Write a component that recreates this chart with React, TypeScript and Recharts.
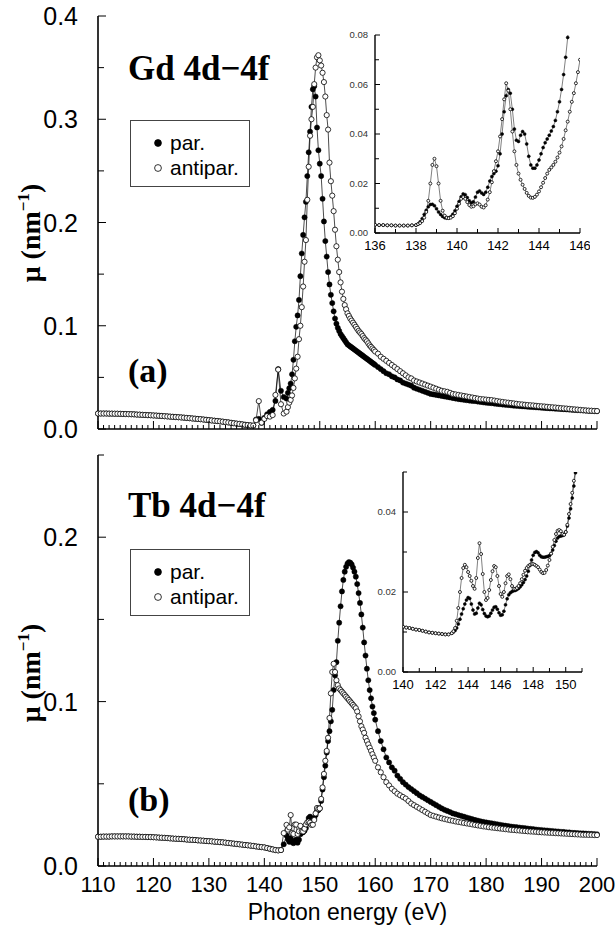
import React from 'react';
import { LineChart, Line, XAxis, YAxis, Legend } from 'recharts';

const SANS = '"Liberation Sans", Arial, Helvetica, sans-serif';
const SERIF = '"Liberation Serif", "Times New Roman", Times, serif';

// photon energy grid of the two big panels (eV)
const E_MAIN = [
  110, 110.5, 111, 111.5, 112, 112.5, 113, 113.5, 114, 114.5, 115, 115.5, 116, 116.5, 117, 117.5, 118, 118.5, 119, 119.5,
  120, 120.5, 121, 121.5, 122, 122.5, 123, 123.5, 124, 124.5, 125, 125.5, 126, 126.5, 127, 127.5, 128, 128.5, 129, 129.5,
  130, 130.5, 131, 131.5, 132, 132.5, 133, 133.5, 134, 134.5, 135, 135.5, 136, 136.5, 137, 137.5, 138,
  138.5, 139, 139.5, 140, 140.5, 141, 141.5, 142, 142.5, 143, 143.5,
  144, 144.25, 144.5, 144.75, 145, 145.25, 145.5, 145.75,
  146, 146.25, 146.5, 146.75, 147, 147.25, 147.5, 147.75,
  148, 148.25, 148.5, 148.75, 149, 149.25, 149.5, 149.75,
  150, 150.25, 150.5, 150.75, 151, 151.25, 151.5, 151.75,
  152, 152.25, 152.5, 152.75, 153, 153.25, 153.5, 153.75,
  154, 154.25, 154.5, 154.75, 155, 155.25, 155.5, 155.75,
  156, 156.25, 156.5, 156.75, 157, 157.25, 157.5, 157.75,
  158, 158.25, 158.5, 158.75, 159, 159.25, 159.5, 159.75,
  160,
  160.5, 161, 161.5, 162, 162.5, 163, 163.5, 164, 164.5, 165,
  165.5, 166, 166.5, 167, 167.5, 168, 168.5, 169, 169.5, 170,
  170.5, 171, 171.5, 172, 172.5, 173, 173.5, 174, 174.5, 175,
  175.5, 176, 176.5, 177, 177.5, 178, 178.5, 179, 179.5, 180,
  180.5, 181, 181.5, 182, 182.5, 183, 183.5, 184, 184.5, 185,
  185.5, 186, 186.5, 187, 187.5, 188, 188.5, 189, 189.5, 190,
  190.5, 191, 191.5, 192, 192.5, 193, 193.5, 194, 194.5, 195,
  195.5, 196, 196.5, 197, 197.5, 198, 198.5, 199, 199.5, 200,
];

// Gd, panel (a): 110-138 eV is common to both spin orientations
const GD_PRE = [
  0.015, 0.015, 0.015, 0.015, 0.0149, 0.0149, 0.0148, 0.0148, 0.0147, 0.0146,
  0.0145, 0.0144, 0.0143, 0.0142, 0.014, 0.0139, 0.0137, 0.0136, 0.0134, 0.0133,
  0.0131, 0.013, 0.0128, 0.0126, 0.0124, 0.0122, 0.012, 0.0118, 0.0116, 0.0114,
  0.0112, 0.011, 0.0107, 0.0105, 0.0102, 0.01, 0.0097, 0.0095, 0.0092, 0.0089,
  0.0086, 0.0083, 0.008, 0.0077, 0.0074, 0.0071, 0.0067, 0.0064, 0.006, 0.0056,
  0.0052, 0.0049, 0.0045, 0.0041, 0.0038, 0.0035, 0.0033,
];
const GD_PAR = [
  ...GD_PRE,
  0.0092, 0.0098, 0.006, 0.0108, 0.0143, 0.0165, 0.0185, 0.0272, 0.058, 0.037, 0.031,
  0.0295, 0.035, 0.0395, 0.044, 0.053, 0.067, 0.085, 0.099,
  0.11, 0.125, 0.148, 0.17, 0.188, 0.205, 0.22, 0.245,
  0.268, 0.288, 0.312, 0.329, 0.332, 0.322, 0.292, 0.27,
  0.257, 0.245, 0.223, 0.201, 0.182, 0.167, 0.152, 0.14,
  0.13, 0.122, 0.114, 0.107, 0.102, 0.098, 0.095, 0.092,
  0.09, 0.088, 0.086, 0.084, 0.082, 0.081, 0.08, 0.079,
  0.078, 0.077, 0.076, 0.075, 0.074, 0.073, 0.072, 0.071,
  0.07, 0.069, 0.068, 0.067, 0.066, 0.065, 0.064, 0.063,
  0.062,
  0.06, 0.058, 0.056, 0.054, 0.053, 0.051, 0.05, 0.048, 0.047, 0.045,
  0.044, 0.043, 0.042, 0.04, 0.039, 0.038, 0.037, 0.036, 0.035, 0.034,
  0.0335, 0.033, 0.0325, 0.032, 0.0315, 0.031, 0.0305, 0.03, 0.0295, 0.029,
  0.0286, 0.0283, 0.0279, 0.0275, 0.0272, 0.027, 0.0266, 0.0262, 0.0258, 0.0255,
  0.0252, 0.025, 0.0246, 0.0243, 0.024, 0.0237, 0.0234, 0.0232, 0.0229, 0.0226,
  0.0224, 0.0222, 0.022, 0.0218, 0.0216, 0.0214, 0.0212, 0.021, 0.0208, 0.0206,
  0.0204, 0.0202, 0.02, 0.0199, 0.0197, 0.0195, 0.0193, 0.0192, 0.019, 0.0188,
  0.0186, 0.0185, 0.0183, 0.0181, 0.0179, 0.0178, 0.0176, 0.0175, 0.0173, 0.0172,
];
const GD_ANTI = [
  ...GD_PRE,
  0.0085, 0.027, 0.0062, 0.0098, 0.0125, 0.012, 0.0135, 0.033, 0.0575, 0.024, 0.015,
  0.0168, 0.0212, 0.0255, 0.0282, 0.0325, 0.0398, 0.049, 0.0585,
  0.07, 0.087, 0.1, 0.118, 0.138, 0.162, 0.183, 0.222,
  0.254, 0.284, 0.3, 0.312, 0.334, 0.35, 0.36, 0.362,
  0.357, 0.352, 0.345, 0.336, 0.322, 0.304, 0.29, 0.258,
  0.24, 0.226, 0.211, 0.193, 0.177, 0.164, 0.152, 0.142,
  0.133, 0.126, 0.12, 0.116, 0.112, 0.1095, 0.107, 0.105,
  0.103, 0.101, 0.099, 0.097, 0.095, 0.0935, 0.092, 0.09,
  0.088, 0.0865, 0.085, 0.083, 0.081, 0.0795, 0.078, 0.0765,
  0.075,
  0.073, 0.07, 0.068, 0.066, 0.064, 0.062, 0.06, 0.058, 0.056, 0.054,
  0.052, 0.05, 0.049, 0.047, 0.046, 0.045, 0.044, 0.043, 0.042, 0.041,
  0.04, 0.039, 0.038, 0.037, 0.0365, 0.036, 0.035, 0.034, 0.0335, 0.033,
  0.0325, 0.032, 0.0315, 0.031, 0.0305, 0.03, 0.0295, 0.029, 0.0288, 0.0285,
  0.0282, 0.028, 0.0275, 0.027, 0.0266, 0.0262, 0.0258, 0.0255, 0.0251, 0.0248,
  0.0244, 0.024, 0.0238, 0.0235, 0.0232, 0.023, 0.0228, 0.0225, 0.0222, 0.022,
  0.0218, 0.0215, 0.0212, 0.021, 0.0208, 0.0205, 0.0202, 0.02, 0.0198, 0.0195,
  0.0192, 0.019, 0.0188, 0.0185, 0.0182, 0.018, 0.0178, 0.0177, 0.0175, 0.0174,
];

// Tb, panel (b)
const TB_PRE = [
  0.0178, 0.0178, 0.0179, 0.0179, 0.0179, 0.018, 0.018, 0.018, 0.018, 0.018,
  0.018, 0.018, 0.0179, 0.0179, 0.0178, 0.0178, 0.0177, 0.0177, 0.0176, 0.0176,
  0.0175, 0.0174, 0.0173, 0.0172, 0.0171, 0.017, 0.0168, 0.0167, 0.0166, 0.0165,
  0.0164, 0.0163, 0.0161, 0.016, 0.0159, 0.0158, 0.0156, 0.0155, 0.0154, 0.0152,
  0.0151, 0.015, 0.0148, 0.0147, 0.0145, 0.0144, 0.0142, 0.014, 0.0138, 0.0136,
  0.0134, 0.0132, 0.013, 0.0128, 0.0126, 0.0124, 0.0122,
];
const TB_PAR = [
  ...TB_PRE,
  0.0119, 0.0117, 0.0115, 0.0113, 0.0109, 0.0105, 0.0101, 0.0097, 0.0095, 0.0097, 0.0132,
  0.0186, 0.0162, 0.0147, 0.017, 0.0146, 0.0139, 0.0155, 0.016,
  0.0142, 0.016, 0.0193, 0.0202, 0.0206, 0.0215, 0.0231, 0.0259,
  0.0292, 0.03, 0.0288, 0.0287, 0.0291, 0.031, 0.0335, 0.034,
  0.035, 0.0396, 0.0465, 0.054, 0.061, 0.069, 0.076, 0.082,
  0.088, 0.095, 0.107, 0.116, 0.124, 0.137, 0.148, 0.158,
  0.167, 0.174, 0.179, 0.182, 0.184, 0.1848, 0.1845, 0.1835,
  0.1815, 0.179, 0.176, 0.1715, 0.166, 0.16, 0.153, 0.145,
  0.136, 0.128, 0.12, 0.113, 0.107, 0.102, 0.097, 0.093,
  0.089,
  0.082, 0.076, 0.071, 0.066, 0.063, 0.06, 0.058, 0.055, 0.053, 0.051,
  0.0495, 0.048, 0.0468, 0.0455, 0.0443, 0.043, 0.042, 0.041, 0.04, 0.039,
  0.038, 0.037, 0.036, 0.035, 0.0342, 0.0335, 0.0328, 0.032, 0.0315, 0.031,
  0.0305, 0.03, 0.0295, 0.029, 0.0285, 0.028, 0.0276, 0.0272, 0.0268, 0.0265,
  0.0262, 0.026, 0.0257, 0.0254, 0.0251, 0.0248, 0.0245, 0.0243, 0.024, 0.0238,
  0.0236, 0.0234, 0.0232, 0.023, 0.0228, 0.0226, 0.0224, 0.0222, 0.022, 0.0219,
  0.0217, 0.0216, 0.0214, 0.0213, 0.0211, 0.021, 0.0208, 0.0207, 0.0205, 0.0204,
  0.0202, 0.0201, 0.02, 0.0199, 0.0198, 0.0197, 0.0196, 0.0195, 0.0194, 0.0193,
];
const TB_ANTI = [
  ...TB_PRE,
  0.0119, 0.0117, 0.0115, 0.0113, 0.0109, 0.0105, 0.0101, 0.0097, 0.0095, 0.0097, 0.02,
  0.025, 0.0221, 0.0235, 0.031, 0.02, 0.0195, 0.0252, 0.0252,
  0.0195, 0.0211, 0.0244, 0.0211, 0.021, 0.0227, 0.0253, 0.0266,
  0.027, 0.0264, 0.025, 0.0251, 0.028, 0.032, 0.0353, 0.0348,
  0.035, 0.0408, 0.0478, 0.056, 0.064, 0.07, 0.078, 0.09,
  0.105, 0.118, 0.123, 0.118, 0.113, 0.11, 0.108, 0.107,
  0.106, 0.105, 0.104, 0.103, 0.102, 0.101, 0.1, 0.099,
  0.098, 0.097, 0.096, 0.094, 0.091, 0.088, 0.085, 0.083,
  0.081, 0.078, 0.076, 0.074, 0.072, 0.07, 0.068, 0.066,
  0.064,
  0.06, 0.057, 0.054, 0.051, 0.049, 0.047, 0.0455, 0.044, 0.043, 0.042,
  0.041, 0.0395, 0.038, 0.037, 0.036, 0.035, 0.034, 0.033, 0.032, 0.031,
  0.0305, 0.03, 0.0295, 0.029, 0.0286, 0.0282, 0.0278, 0.0275, 0.0271, 0.0268,
  0.0265, 0.0262, 0.0259, 0.0256, 0.0253, 0.025, 0.0247, 0.0244, 0.0241, 0.0239,
  0.0236, 0.0234, 0.0232, 0.023, 0.0228, 0.0226, 0.0224, 0.0222, 0.022, 0.0219,
  0.0217, 0.0216, 0.0214, 0.0213, 0.0211, 0.021, 0.0209, 0.0208, 0.0206, 0.0205,
  0.0204, 0.0203, 0.0202, 0.0201, 0.02, 0.0199, 0.0198, 0.0197, 0.0196, 0.0195,
  0.0194, 0.0193, 0.0192, 0.0191, 0.019, 0.019, 0.0189, 0.0189, 0.0188, 0.0188,
];

// inset of panel (a), 136-146 eV
const E_GD_INSET = [
  136, 136.2, 136.4, 136.6, 136.8, 137, 137.2, 137.4, 137.6, 137.8, 138,
  138.1, 138.2, 138.3, 138.4, 138.5, 138.6, 138.7, 138.8, 138.9, 139,
  139.1, 139.2, 139.3, 139.4, 139.5, 139.6, 139.7, 139.8, 139.9, 140,
  140.1, 140.2, 140.3, 140.4, 140.5, 140.6, 140.7, 140.8, 140.9, 141,
  141.1, 141.2, 141.3, 141.4, 141.5, 141.6, 141.7, 141.8, 141.9, 142,
  142.1, 142.2, 142.3, 142.4, 142.5, 142.6, 142.7, 142.8, 142.9, 143,
  143.1, 143.2, 143.3, 143.4, 143.5, 143.6, 143.7, 143.8, 143.9, 144,
  144.1, 144.2, 144.3, 144.4, 144.5, 144.6, 144.7, 144.8, 144.9, 145,
  145.1, 145.2, 145.3, 145.4, 145.5, 145.6, 145.7, 145.8, 145.9, 146,
];
const GD_INSET_BASE = [0.0033, 0.0032, 0.0032, 0.0031, 0.0031, 0.003, 0.003, 0.003, 0.003, 0.0031, 0.0032];
const GD_INSET_PAR = [
  ...GD_INSET_BASE,
  0.0036, 0.0045, 0.0058, 0.0075, 0.0092, 0.0106, 0.0115, 0.0116, 0.011, 0.0098,
  0.0085, 0.0075, 0.0067, 0.0062, 0.006, 0.0061, 0.0066, 0.0076, 0.009, 0.0108,
  0.0127, 0.0146, 0.0158, 0.0155, 0.0143, 0.013, 0.0122, 0.0126, 0.0145, 0.0165,
  0.017, 0.0162, 0.0156, 0.0165, 0.0185, 0.021, 0.0228, 0.024, 0.025, 0.0272,
  0.032, 0.04, 0.049, 0.0555, 0.058, 0.0565, 0.05, 0.042, 0.0375, 0.037,
  0.0395, 0.041, 0.04, 0.036, 0.031, 0.0275, 0.0262, 0.0262, 0.0275, 0.0295,
  0.032, 0.0345, 0.0365, 0.038, 0.0395, 0.0412, 0.043, 0.0455, 0.049, 0.053,
  0.058, 0.064, 0.071, 0.079, 0.087,
];
const GD_INSET_ANTI = [
  ...GD_INSET_BASE,
  0.0036, 0.004, 0.0048, 0.0062, 0.0085, 0.013, 0.02, 0.0275, 0.03, 0.027,
  0.02, 0.013, 0.009, 0.007, 0.0062, 0.006, 0.0062, 0.0068, 0.008, 0.0098,
  0.0118, 0.0138, 0.0145, 0.0138, 0.0125, 0.0113, 0.0106, 0.0108, 0.0116, 0.012,
  0.0115, 0.0106, 0.0103, 0.0112, 0.0135, 0.0165, 0.0205, 0.025, 0.029, 0.033,
  0.039, 0.046, 0.054, 0.0605, 0.0575, 0.05, 0.041, 0.033, 0.0275, 0.024,
  0.0215, 0.0195, 0.0178, 0.0162, 0.015, 0.0143, 0.0142, 0.0146, 0.0155, 0.0168,
  0.0185, 0.0203, 0.0222, 0.024, 0.0255, 0.0265, 0.0275, 0.0288, 0.0305, 0.0325,
  0.035, 0.038, 0.0415, 0.045, 0.049, 0.053, 0.0565, 0.0605, 0.065, 0.07,
];

// inset of panel (b), 140-151 eV
const E_TB_INSET = [
  140, 140.2, 140.4, 140.6, 140.8, 141, 141.2, 141.4, 141.6, 141.8, 142, 142.2, 142.4, 142.6, 142.8, 143,
  143.1, 143.2, 143.3, 143.4, 143.5, 143.6, 143.7, 143.8, 143.9, 144,
  144.1, 144.2, 144.3, 144.4, 144.5, 144.6, 144.7, 144.8, 144.9, 145,
  145.1, 145.2, 145.3, 145.4, 145.5, 145.6, 145.7, 145.8, 145.9, 146,
  146.1, 146.2, 146.3, 146.4, 146.5, 146.6, 146.7, 146.8, 146.9, 147,
  147.1, 147.2, 147.3, 147.4, 147.5, 147.6, 147.7, 147.8, 147.9, 148,
  148.1, 148.2, 148.3, 148.4, 148.5, 148.6, 148.7, 148.8, 148.9, 149,
  149.1, 149.2, 149.3, 149.4, 149.5, 149.6, 149.7, 149.8, 149.9, 150,
  150.1, 150.2, 150.3, 150.4, 150.5, 150.6, 150.7, 150.8, 150.9, 151,
];
const TB_INSET_BASE = [
  0.0113, 0.0111, 0.011, 0.0108, 0.0106, 0.0105, 0.0103, 0.0101, 0.0099, 0.0098,
  0.0097, 0.0096, 0.0095, 0.0094, 0.0094, 0.0097,
];
const TB_INSET_PAR = [
  ...TB_INSET_BASE,
  0.01, 0.0104, 0.011, 0.012, 0.0132, 0.0145, 0.0158, 0.017, 0.018, 0.0186,
  0.0184, 0.017, 0.0155, 0.0145, 0.0147, 0.016, 0.0172, 0.0168, 0.0156, 0.0146,
  0.014, 0.0138, 0.014, 0.0147, 0.0155, 0.0162, 0.0163, 0.0157, 0.0148, 0.0142,
  0.0143, 0.0152, 0.0168, 0.0183, 0.0193, 0.0198, 0.0201, 0.0203, 0.0204, 0.0206,
  0.0209, 0.0213, 0.0218, 0.0224, 0.0231, 0.024, 0.0252, 0.0266, 0.028, 0.0292,
  0.0299, 0.0301, 0.0298, 0.0292, 0.0288, 0.0287, 0.0287, 0.0288, 0.0289, 0.0291,
  0.0296, 0.0305, 0.0316, 0.0327, 0.0335, 0.0339, 0.034, 0.0341, 0.0343, 0.035,
  0.0365, 0.0385, 0.0408, 0.0435, 0.0465, 0.0498, 0.053,
];
const TB_INSET_ANTI = [
  ...TB_INSET_BASE,
  0.0102, 0.011, 0.0128, 0.016, 0.02, 0.0235, 0.026, 0.0268, 0.0262, 0.025,
  0.024, 0.0228, 0.0215, 0.0208, 0.0235, 0.0285, 0.0322, 0.0295, 0.0245, 0.02,
  0.018, 0.0185, 0.0205, 0.023, 0.0252, 0.0265, 0.0262, 0.024, 0.0215, 0.0195,
  0.0188, 0.02, 0.0222, 0.024, 0.0244, 0.0232, 0.0215, 0.0208, 0.0208, 0.021,
  0.0215, 0.0222, 0.0232, 0.0243, 0.0253, 0.026, 0.0265, 0.0268, 0.027, 0.027,
  0.0268, 0.0265, 0.0262, 0.0256, 0.025, 0.0247, 0.0248, 0.0255, 0.0266, 0.028,
  0.0296, 0.0313, 0.033, 0.0345, 0.0353, 0.0355, 0.0352, 0.0345, 0.0343, 0.035,
  0.0368, 0.0395, 0.042, 0.0448, 0.0478, 0.0505, 0.0535,
];

const SERIES_NAMES = ['par.', 'antipar.'];

// tick labels
const MAIN_X_TICKS = [110, 120, 130, 140, 150, 160, 170, 180, 190, 200];
const GD_Y_TICKS = [0, 0.1, 0.2, 0.3, 0.4];
const TB_Y_TICKS = [0, 0.1, 0.2];
const GD_INSET_X_TICKS = [136, 138, 140, 142, 144, 146];
const GD_INSET_Y_TICKS = [0, 0.02, 0.04, 0.06, 0.08];
const TB_INSET_X_TICKS = [140, 142, 144, 146, 148, 150];
const TB_INSET_Y_TICKS = [0, 0.02, 0.04];

const steps = (lo: number, hi: number, step: number) => {
  const out: number[] = [];
  for (let i = 0; lo + i * step <= hi + 1e-9; i++) out.push(+(lo + i * step).toFixed(4));
  return out;
};

type Row = { E: number; par: number | null; anti: number | null };
const rowsOf = (E: number[], par: number[], anti: number[]): Row[] =>
  E.map((e, i) => ({
    E: e,
    par: i < par.length ? par[i] : null,
    anti: i < anti.length ? anti[i] : null,
  }));

const isIn = (list: number[], v: number) => list.some((t) => Math.abs(t - v) < 1e-6);

type Side = 'bottom' | 'top' | 'left' | 'right';
type LabelOpt = { size: number; gap: number; color: string; fmt: (v: number) => string };

// inward tick marks, label only on major ticks
const makeTick = (side: Side, majors: number[], lens: [number, number], label?: LabelOpt) => (p: any) => {
  const { x, y } = p;
  const v = Number(p.payload.value);
  const major = isIn(majors, v);
  const len = major ? lens[0] : lens[1];
  const dx = side === 'left' ? len : side === 'right' ? -len : 0;
  const dy = side === 'bottom' ? -len : side === 'top' ? len : 0;
  let text = null;
  if (label && major) {
    text =
      side === 'bottom' ? (
        <text x={x} y={y + label.gap} textAnchor="middle" fontSize={label.size} fill={label.color} fontFamily={SANS}>
          {label.fmt(v)}
        </text>
      ) : (
        <text x={x - label.gap} y={y + label.size * 0.36} textAnchor="end" fontSize={label.size} fill={label.color} fontFamily={SANS}>
          {label.fmt(v)}
        </text>
      );
  }
  return (
    <g>
      <line x1={x} y1={y} x2={x + dx} y2={y + dy} stroke="#000" strokeWidth={1} />
      {text}
    </g>
  );
};

const LegendBox = () => (
  <div
    style={{
      width: 120,
      height: 67,
      border: '1px solid #444',
      background: '#fff',
      boxSizing: 'border-box',
      paddingTop: 9,
      fontFamily: SANS,
      fontSize: 21,
      color: '#000',
    }}
  >
    {SERIES_NAMES.map((name, i) => (
      <div key={name} style={{ display: 'flex', alignItems: 'center', height: 25 }}>
        <svg width={12} height={12} style={{ marginLeft: 21, marginRight: 6 }}>
          <circle cx={6} cy={6} r={3.4} fill={i === 0 ? '#000' : '#fff'} stroke="#000" strokeWidth={0.8} />
        </svg>
        <span>{name}</span>
      </div>
    ))}
  </div>
);

type PanelCfg = {
  rows: Row[];
  left: number;
  top: number;
  width: number;
  height: number;
  margin: { top: number; right: number; bottom: number; left: number };
  xDomain: [number, number];
  yDomain: [number, number];
  xTicks: number[];
  xMinor: number[];
  yTicks: number[];
  yMinor: number[];
  xLabel?: LabelOpt;
  yLabel: LabelOpt;
  yAxisWidth: number;
  xAxisHeight: number;
  xLen: [number, number];
  yLen: [number, number];
  dotR: number;
  lineW: number;
  frame: number;
  clipDots: boolean;
  legendTop?: number;
};

const merge = (a: number[], b: number[]) => Array.from(new Set([...a, ...b])).sort((m, n) => m - n);

function Panel(c: PanelCfg) {
  const xAll = merge(c.xTicks, c.xMinor);
  const yAll = merge(c.yTicks, c.yMinor);
  const axisLine = { stroke: '#000', strokeWidth: c.frame };
  const common = { type: 'number' as const, allowDataOverflow: true, interval: 0 as const, tickLine: false, tickSize: 0, tickMargin: 0, axisLine };
  return (
    <div style={{ position: 'absolute', left: c.left, top: c.top }}>
      <LineChart width={c.width} height={c.height} data={c.rows} margin={c.margin}>
        <XAxis xAxisId="b" dataKey="E" domain={c.xDomain} ticks={xAll} height={c.xAxisHeight}
          tick={makeTick('bottom', c.xTicks, c.xLen, c.xLabel)} {...common} />
        <XAxis xAxisId="t" orientation="top" domain={c.xDomain} ticks={xAll} height={0}
          tick={makeTick('top', c.xTicks, c.xLen)} {...common} />
        <YAxis yAxisId="l" domain={c.yDomain} ticks={yAll} width={c.yAxisWidth}
          tick={makeTick('left', c.yTicks, c.yLen, c.yLabel)} {...common} />
        <YAxis yAxisId="r" orientation="right" domain={c.yDomain} ticks={yAll} width={0}
          tick={makeTick('right', c.yTicks, c.yLen)} {...common} />
        {c.legendTop !== undefined && (
          <Legend layout="vertical" align="center" verticalAlign="middle"
            wrapperStyle={{ left: 130, top: c.legendTop, width: 120 }} content={() => <LegendBox />} />
        )}
        <Line xAxisId="b" yAxisId="l" dataKey="par" name={SERIES_NAMES[0]} type="linear" stroke="#000"
          strokeWidth={c.lineW} dot={{ r: c.dotR, fill: '#000', stroke: '#000', strokeWidth: 0.5, clipDot: c.clipDots }}
          activeDot={false} isAnimationActive={false} />
        <Line xAxisId="b" yAxisId="l" dataKey="anti" name={SERIES_NAMES[1]} type="linear" stroke="#000"
          strokeWidth={c.lineW} dot={{ r: c.dotR, fill: '#fff', stroke: '#000', strokeWidth: 0.8, clipDot: c.clipDots }}
          activeDot={false} isAnimationActive={false} />
      </LineChart>
    </div>
  );
}

const mainY = (v: number) => v.toFixed(1);
const insetY = (v: number) => v.toFixed(2);
const plain = (v: number) => String(v);

const mainBase = {
  left: 0,
  width: 615,
  xDomain: [110, 200] as [number, number],
  xTicks: MAIN_X_TICKS,
  xMinor: steps(110, 200, 1),
  yAxisWidth: 98,
  xLen: [8, 4] as [number, number],
  yLen: [8, 6] as [number, number],
  yLabel: { size: 25, gap: 20, color: '#000', fmt: mainY },
  dotR: 2.6,
  lineW: 0.7,
  frame: 1.6,
  clipDots: false,
};

const insetBase = {
  yAxisWidth: 45,
  xLen: [5, 4] as [number, number],
  yLen: [5, 4] as [number, number],
  xLabel: { size: 13, gap: 17, color: '#000', fmt: plain },
  yLabel: { size: 9.5, gap: 7, color: '#333', fmt: insetY },
  dotR: 1.5,
  lineW: 0.5,
  frame: 1.4,
  clipDots: true,
};

const TitleText = ({ x, y, size, children }: { x: number; y: number; size: number; children: React.ReactNode }) => (
  <div style={{ position: 'absolute', left: x, top: y, fontFamily: SERIF, fontWeight: 'bold', fontSize: size, lineHeight: 1, whiteSpace: 'nowrap' }}>
    {children}
  </div>
);

// rotated axis title, centred on cy, baseline at x = 40
const YTitle = ({ cy }: { cy: number }) => (
  <svg width={60} height={140} style={{ position: 'absolute', left: 0, top: cy - 70 }}>
    <text transform="rotate(-90)" x={-70} y={40} textAnchor="middle" fontFamily={SERIF} fontWeight="bold" fontSize={28} fill="#000">
      μ (nm<tspan dy={-11} fontSize={17}>−1</tspan>
      <tspan dy={11}>)</tspan>
    </text>
  </svg>
);

export default function App() {
  return (
    <div style={{ position: 'relative', width: 615, height: 933, background: '#fff', overflow: 'hidden', fontFamily: SANS }}>
      <style>{'body{margin:0}'}</style>
      <Panel
        {...mainBase}
        rows={rowsOf(E_MAIN, GD_PAR, GD_ANTI)}
        top={0}
        height={445}
        margin={{ top: 16, right: 18, bottom: 0, left: 0 }}
        yDomain={[0, 0.4]}
        yTicks={GD_Y_TICKS}
        yMinor={steps(0, 0.4, 0.05)}
        xAxisHeight={16}
        legendTop={120}
      />
      <Panel
        {...mainBase}
        rows={rowsOf(E_MAIN, TB_PAR, TB_ANTI)}
        top={440}
        height={460}
        margin={{ top: 15, right: 18, bottom: 0, left: 0 }}
        yDomain={[0, 0.25]}
        yTicks={TB_Y_TICKS}
        yMinor={steps(0, 0.25, 0.05)}
        xAxisHeight={34}
        xLabel={{ size: 22, gap: 26, color: '#000', fmt: plain }}
        legendTop={109}
      />
      <Panel
        {...insetBase}
        rows={rowsOf(E_GD_INSET, GD_INSET_PAR, GD_INSET_ANTI)}
        left={330}
        top={20}
        width={260}
        height={235}
        margin={{ top: 15, right: 10, bottom: 0, left: 0 }}
        xDomain={[136, 146]}
        yDomain={[0, 0.08]}
        xTicks={GD_INSET_X_TICKS}
        xMinor={steps(136, 146, 1)}
        yTicks={GD_INSET_Y_TICKS}
        yMinor={steps(0, 0.08, 0.01)}
        xAxisHeight={22}
      />
      <Panel
        {...insetBase}
        rows={rowsOf(E_TB_INSET, TB_INSET_PAR, TB_INSET_ANTI)}
        left={358}
        top={460}
        width={234}
        height={232}
        margin={{ top: 12, right: 10, bottom: 0, left: 0 }}
        xDomain={[140, 151]}
        yDomain={[0, 0.05]}
        xTicks={TB_INSET_X_TICKS}
        xMinor={steps(140, 151, 1)}
        yTicks={TB_INSET_Y_TICKS}
        yMinor={steps(0, 0.05, 0.01)}
        xAxisHeight={20}
      />
      <TitleText x={128} y={51} size={35}>Gd 4d−4f</TitleText>
      <TitleText x={128} y={354} size={34}>(a)</TitleText>
      <TitleText x={128} y={488} size={35}>Tb 4d−4f</TitleText>
      <TitleText x={128} y={783} size={34}>(b)</TitleText>
      <YTitle cy={233} />
      <YTitle cy={673} />
      <div style={{ position: 'absolute', left: 98, top: 901, width: 499, textAlign: 'center', fontFamily: SANS, fontSize: 23, lineHeight: 1 }}>
        Photon energy (eV)
      </div>
    </div>
  );
}
